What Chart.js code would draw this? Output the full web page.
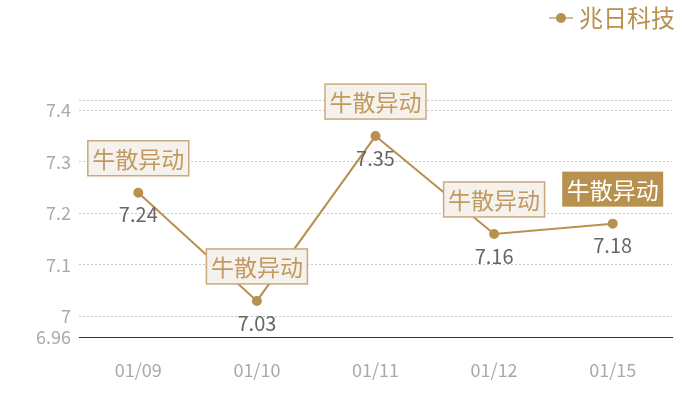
<!DOCTYPE html>
<html>
<head>
<meta charset="utf-8">
<script src="https://cdn.jsdelivr.net/npm/chart.js@4"></script>
<style>
  html, body { margin: 0; padding: 0; background: #fff; }
  #wrap { width: 700px; height: 400px; }
</style>
</head>
<body>
<div id="wrap"><canvas id="myChart" width="700" height="400"></canvas></div>
<script>
// data
const dates = ['01/09', '01/10', '01/11', '01/12', '01/15'];
const prices = [7.24, 7.03, 7.35, 7.16, 7.18];
const tags = ['牛散异动', '牛散异动', '牛散异动', '牛散异动', '牛散异动'];
const yTicks = [6.96, 7, 7.1, 7.2, 7.3, 7.4, 7.42];
const seriesName = '兆日科技';

const GOLD = '#b8914f';
const FONT = '"Noto Sans CJK SC", "Noto Sans", sans-serif';

// draws the tag boxes, value labels and the legend
const tagPlugin = {
  id: 'tags',
  afterDatasetsDraw(chart) {
    const ctx = chart.ctx;
    const meta = chart.getDatasetMeta(0);
    ctx.save();
    meta.data.forEach((pt, i) => {
      const last = i === meta.data.length - 1;
      const w = 101, h = 35;
      const x = pt.x - w / 2;
      const y = pt.y - 17 - h;
      ctx.fillStyle = last ? GOLD : '#f5f1ec';
      ctx.fillRect(x, y, w, h);
      if (!last) {
        ctx.strokeStyle = '#c9aa7a';
        ctx.lineWidth = 1.5;
        ctx.strokeRect(x, y, w, h);
      }
      ctx.font = '23px ' + FONT;
      ctx.textAlign = 'center';
      ctx.textBaseline = 'middle';
      ctx.fillStyle = last ? '#fff' : '#c19a60';
      ctx.fillText(tags[i], pt.x, y + h / 2 + 1);

      // value under the point
      ctx.font = '20px ' + FONT;
      ctx.fillStyle = '#666';
      ctx.fillText(prices[i].toString(), pt.x, pt.y + 22);
    });

    // legend, top right
    const ly = 18;
    ctx.strokeStyle = '#d6bd94';
    ctx.lineWidth = 2;
    ctx.beginPath();
    ctx.moveTo(549, ly);
    ctx.lineTo(573, ly);
    ctx.stroke();
    ctx.fillStyle = GOLD;
    ctx.beginPath();
    ctx.arc(561, ly, 5, 0, Math.PI * 2);
    ctx.fill();
    ctx.font = '24px ' + FONT;
    ctx.textAlign = 'left';
    ctx.textBaseline = 'middle';
    ctx.fillText(chart.data.datasets[0].label, 579, ly);
    ctx.restore();
  }
};

const ctx = document.getElementById('myChart').getContext('2d');
new Chart(ctx, {
  type: 'line',
  data: {
    labels: dates,
    datasets: [
      {
        label: seriesName,
        data: prices,
        borderColor: GOLD,
        backgroundColor: GOLD,
        borderWidth: 2,
        pointRadius: 4,
        pointHoverRadius: 4,
        tension: 0,
      },
    ],
  },
  plugins: [tagPlugin],
  options: {
    responsive: false,
    animation: false,
    devicePixelRatio: 1,
    layout: { padding: { top: 100, right: 28, left: 0, bottom: 0 } },
    plugins: {
      legend: { display: false },
      tooltip: { enabled: false },
    },
    scales: {
      x: {
        offset: true,
        grid: { display: false, drawTicks: false },
        border: { display: true, color: '#333', width: 1 },
        ticks: {
          color: '#aaa',
          font: { family: FONT, size: 18 },
          padding: 22,
        },
        afterFit(scale) { scale.height = 63; },
      },
      y: {
        min: 6.96,
        max: 7.42,
        afterBuildTicks(scale) {
          scale.ticks = yTicks.map(v => ({ value: v }));
        },
        afterFit(scale) { scale.width = 79; },
        grid: {
          drawTicks: false,
          color: c => (c.index === 0 ? 'transparent' : '#c8c8c8'),
          lineWidth: 1,
        },
        border: { display: false, dash: [2, 2] },
        ticks: {
          color: '#aaa',
          font: { family: FONT, size: 18 },
          padding: 8,
          callback: v => (v === 7.42 ? '' : String(v)),
        },
      },
    },
  },
});
</script>
</body>
</html>
